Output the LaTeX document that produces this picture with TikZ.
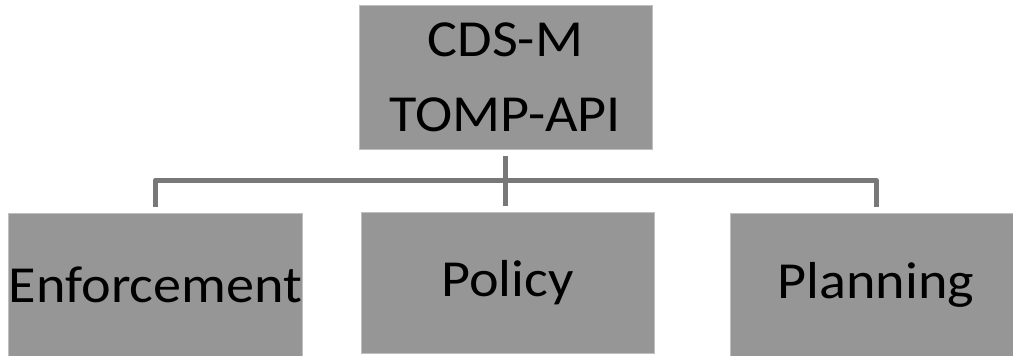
\documentclass[tikz,border=0pt]{standalone}
\usepackage{fontspec}
\setmainfont{Carlito}[FakeStretch=1.08]
\begin{document}
\begin{tikzpicture}[x=1pt,y=-1pt,
  blk/.style={draw=black!25, line width=1pt, fill=black!41, inner sep=0pt,
    text=black, font=\fontsize{52}{75}\selectfont, align=center},
  conn/.style={draw=black!53, line width=5pt, line join=round}]
  \useasboundingbox (0,0) rectangle (1013,356);
  % boxes
  \node[blk, minimum width=293pt, minimum height=144pt] (top) at (505.5,77) {CDS-M\\TOMP-API};
  \node[blk, minimum width=293pt, minimum height=144pt] (enf) at (155.5,285) {Enforcement};
  \node[blk, minimum width=293pt, minimum height=141pt] (pol) at (507.5,282.5) {Policy};
  \node[blk, minimum width=292pt, minimum height=144pt] (pla) at (876,285) {Planning};
  % connectors
  \coordinate (bus) at (0,180);
  \draw[conn] ([yshift=-6pt]top.south) -- ([yshift=6pt]top.south |- pol.north);
  \draw[conn] ([yshift=6pt]enf.north) -- (enf.north |- bus) -- (pla.north |- bus) -- ([yshift=6pt]pla.north);
\end{tikzpicture}
\end{document}
